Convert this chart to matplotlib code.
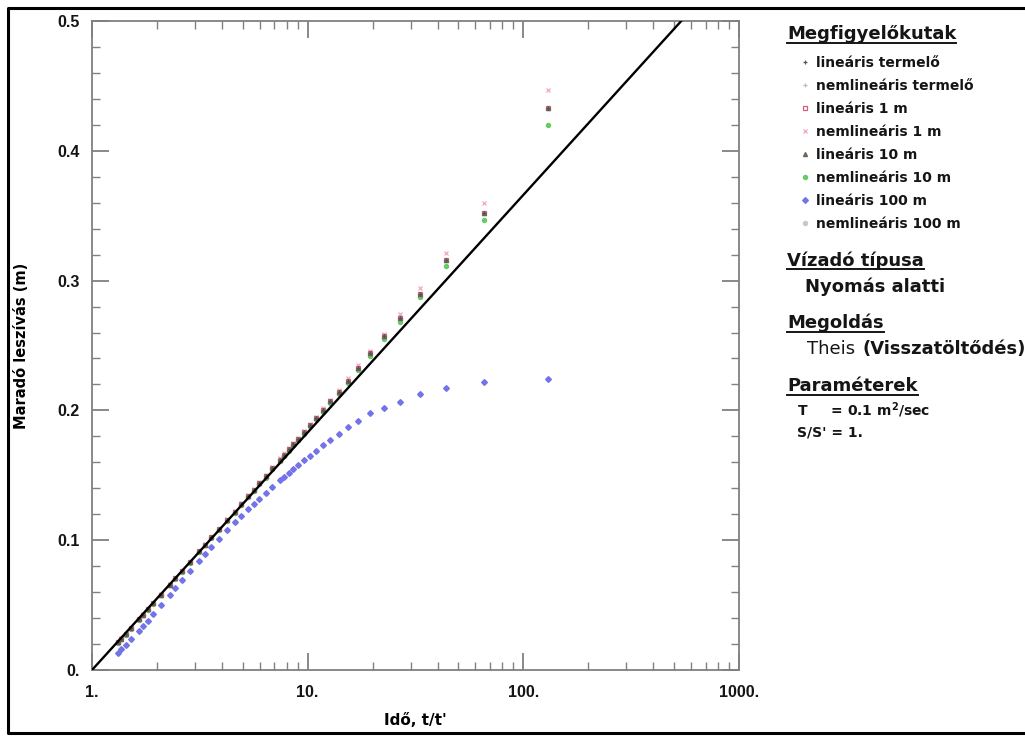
import numpy as np
import matplotlib
matplotlib.use('Agg')
import matplotlib.pyplot as plt
from matplotlib.lines import Line2D
from matplotlib.ticker import FixedLocator, NullFormatter

plt.rcParams['mathtext.fontset'] = 'dejavusans'

# t/t' values of the recovery readings
t_ratio = [130.0, 65.5, 44.0, 33.25, 26.8, 22.5, 19.43, 17.13, 15.33, 13.9,
           12.73, 11.75, 10.92, 10.21, 9.6, 9.06, 8.59, 8.17, 7.79, 7.45,
           6.86, 6.38, 5.96, 5.61, 5.3, 4.91, 4.58, 4.23, 3.87, 3.58,
           3.35, 3.15, 2.84, 2.61, 2.43, 2.29, 2.08, 1.92, 1.81, 1.72,
           1.645, 1.516, 1.43, 1.369, 1.3225]

# residual drawdown (m)
s_main = [0.433, 0.352, 0.316, 0.290, 0.271, 0.257, 0.244, 0.233, 0.223, 0.2145,
          0.207, 0.2005, 0.194, 0.1886, 0.183, 0.178, 0.174, 0.170, 0.166, 0.162,
          0.1555, 0.1493, 0.1439, 0.139, 0.134, 0.128, 0.122, 0.1156, 0.1086, 0.1024,
          0.0966, 0.0915, 0.083, 0.0762, 0.0705, 0.0657, 0.058, 0.0515, 0.0468, 0.0426,
          0.039, 0.0324, 0.0276, 0.0241, 0.0213]
s_nl1 = [0.447, 0.360, 0.321, 0.294, 0.274, 0.259, 0.246, 0.235, 0.225, 0.216,
         0.208, 0.2015, 0.195, 0.1895, 0.184, 0.179, 0.175, 0.171, 0.167, 0.163,
         0.1565, 0.150, 0.1446, 0.1396, 0.1345, 0.1285, 0.1225, 0.116, 0.109, 0.1028,
         0.097, 0.0918, 0.0833, 0.0764, 0.0707, 0.0659, 0.0582, 0.0517, 0.047, 0.0428,
         0.0392, 0.0326, 0.0278, 0.0243, 0.0215]
s_nl10 = [0.420, 0.347, 0.311, 0.287, 0.268, 0.255, 0.242, 0.231, 0.221, 0.213,
          0.2055, 0.199, 0.193, 0.1876, 0.182, 0.177, 0.173, 0.169, 0.165, 0.161,
          0.1545, 0.1483, 0.143, 0.1382, 0.1332, 0.1272, 0.1213, 0.115, 0.108, 0.1018,
          0.096, 0.091, 0.0825, 0.0757, 0.07, 0.0652, 0.0575, 0.051, 0.0462, 0.042,
          0.0384, 0.0318, 0.027, 0.0235, 0.0205]
s_lin100 = [0.224, 0.222, 0.217, 0.2125, 0.2065, 0.202, 0.198, 0.192, 0.187, 0.182,
            0.177, 0.173, 0.169, 0.165, 0.162, 0.158, 0.155, 0.152, 0.149, 0.146,
            0.141, 0.136, 0.132, 0.128, 0.124, 0.119, 0.114, 0.108, 0.101, 0.095,
            0.089, 0.084, 0.076, 0.069, 0.063, 0.058, 0.050, 0.043, 0.038, 0.034,
            0.030, 0.024, 0.019, 0.016, 0.013]

# Theis recovery solution (straight line on semi-log axes)
line_t = [1.0, 1000.0]
line_s = [0.0, 0.549]

series_labels = ['lineáris termelő', 'nemlineáris termelő', 'lineáris 1 m', 'nemlineáris 1 m',
                 'lineáris 10 m', 'nemlineáris 10 m', 'lineáris 100 m', 'nemlineáris 100 m']
series_data = [s_main, s_main, s_main, s_nl1, s_main, s_nl10, s_lin100, s_lin100]
series_markers = ['+', '+', 's', 'x', '^', 'o', 'D', 'o']
series_colors = ['#555555', '#c9b7a8', '#d0607a', '#f2a8b8', '#6a6a5a', '#66cc66', '#7474ea', '#c8c8c8']
draw_order = [7, 6, 1, 3, 5, 2, 4, 0]

W, H = 1025, 736
fig = plt.figure(figsize=(W / 100, H / 100), dpi=100)
ax = fig.add_axes([92 / W, 1 - 670 / H, (739 - 92) / W, (670 - 21) / H])

ax.plot(line_t, line_s, color='black', lw=1.7, zorder=5)

for i in draw_order:
    ax.plot(t_ratio, series_data[i], linestyle='none', marker=series_markers[i],
            color=series_colors[i], markersize=3.0, mew=0.9,
            markerfacecolor='none' if series_markers[i] == 's' else series_colors[i],
            zorder=3)

ax.set_xscale('log')
ax.set_xlim(1, 1000)
ax.set_ylim(0, 0.5)
ax.xaxis.set_major_locator(FixedLocator([1, 10, 100, 1000]))
ax.xaxis.set_minor_locator(FixedLocator([k * 10**p for p in range(3) for k in range(2, 10)]))
ax.xaxis.set_minor_formatter(NullFormatter())
ax.set_xticklabels(['1.', '10.', '100.', '1000.'])
ax.yaxis.set_major_locator(FixedLocator([0, 0.1, 0.2, 0.3, 0.4, 0.5]))
ax.yaxis.set_minor_locator(FixedLocator(np.arange(0, 0.5, 0.02)))
ax.set_yticklabels(['0.', '0.1', '0.2', '0.3', '0.4', '0.5'])

for sp in ax.spines.values():
    sp.set_color('#808080')
    sp.set_linewidth(1.3)
ax.tick_params(which='both', direction='in', top=True, right=True, color='#808080')
ax.tick_params(which='major', length=12, width=1.3)
ax.tick_params(which='minor', length=5.5, width=1.0)
ax.tick_params(axis='x', which='major', pad=11)
ax.tick_params(axis='y', which='major', pad=9)
for lab in ax.get_xticklabels() + ax.get_yticklabels():
    lab.set_family('Liberation Sans')
    lab.set_fontweight('bold')
    lab.set_fontsize(11.5)
    lab.set_color('#151515')

ax.set_xlabel("Idő, t/t'", fontsize=11, fontweight='bold', family='DejaVu Sans', labelpad=9)
ax.set_ylabel('Maradó leszívás (m)', fontsize=10.5, fontweight='bold', family='DejaVu Sans', labelpad=20)

# right hand info panel
headings = []
def panel_text(x, y, text, size=13, weight='bold', underline=False):
    t = fig.text(x / W, 1 - y / H, text, fontsize=size, fontweight=weight,
                 family='DejaVu Sans', va='baseline', color='#151515')
    if underline:
        headings.append(t)
    return t

panel_text(787, 39, 'Megfigyelőkutak', underline=True)

# observation well legend
row_y = [62, 85, 108, 131, 154, 177, 200, 223]
for i, lab in enumerate(series_labels):
    fig.add_artist(Line2D([805 / W], [1 - row_y[i] / H], marker=series_markers[i],
                          color=series_colors[i], markersize=3.0, mew=0.9,
                          markerfacecolor='none' if series_markers[i] == 's' else series_colors[i]))
    panel_text(816, row_y[i] + 5, lab, size=10)

panel_text(787, 266, 'Vízadó típusa', underline=True)
panel_text(805, 292, 'Nyomás alatti')
panel_text(787, 328, 'Megoldás', underline=True)
panel_text(807, 354, 'Theis', weight='normal')
panel_text(862, 354, '(Visszatöltődés)')
panel_text(787, 391, 'Paraméterek', underline=True)
panel_text(797, 415, 'T     = 0.1 m$^{\\mathbf{2}}$/sec', size=10)
panel_text(797, 436, "S/S' = 1.", size=10)

# underline the headings using their rendered extent
fig.canvas.draw()
renderer = fig.canvas.get_renderer()
for t in headings:
    bb = t.get_window_extent(renderer)
    yl = (bb.y0 + 0.5) / H
    fig.add_artist(Line2D([bb.x0 / W, bb.x1 / W], [yl, yl], color='#151515', lw=1.4))

# outer frame (right side runs off the picture)
frame = dict(color='black', lw=2.2)
fig.add_artist(Line2D([1.0, 8 / W, 8 / W, 1.0], [1 - 8 / H, 1 - 8 / H, 1 - 733 / H, 1 - 733 / H], **frame))

fig.savefig('out.png', dpi=100)
